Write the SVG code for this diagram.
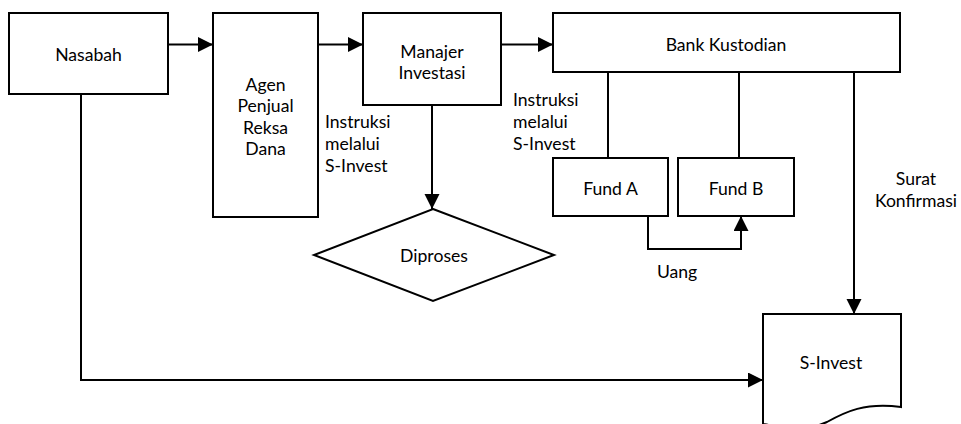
<svg xmlns="http://www.w3.org/2000/svg" width="961" height="424" viewBox="0 0 961 424">
<style>
.box{fill:#fff;stroke:#000;stroke-width:2}
.ln{fill:none;stroke:#000;stroke-width:2}
text{font-family:Lato,"DejaVu Sans",sans-serif;font-size:17.6px;fill:#000}
.c{text-anchor:middle}
</style>
<defs>
<marker id="ah" markerUnits="userSpaceOnUse" markerWidth="16" markerHeight="16" refX="15" refY="7.5" orient="auto">
<path d="M0,0 L15,7.5 L0,15 Z" fill="#000"/>
</marker>
</defs>
<rect width="961" height="424" fill="#fff"/>
<g id="connectors">
<line class="ln" x1="168" y1="44.5" x2="213" y2="44.5" marker-end="url(#ah)"/>
<line class="ln" x1="318" y1="44.5" x2="363" y2="44.5" marker-end="url(#ah)"/>
<line class="ln" x1="501" y1="44.5" x2="553" y2="44.5" marker-end="url(#ah)"/>
<line class="ln" x1="432" y1="105" x2="432" y2="209" marker-end="url(#ah)"/>
<line class="ln" x1="608" y1="72" x2="608" y2="158"/>
<line class="ln" x1="739" y1="72" x2="739" y2="158"/>
<line class="ln" x1="854" y1="72" x2="854" y2="314" marker-end="url(#ah)"/>
<polyline class="ln" points="648,216 648,249 741,249 741,216" marker-end="url(#ah)"/>
<polyline class="ln" points="81,94 81,380 763,380" marker-end="url(#ah)"/>
</g>
<g id="nasabah"><rect class="box" x="9" y="13" width="159" height="81"/><text class="c" x="88.5" y="61">Nasabah</text></g>
<g id="agen"><rect class="box" x="213" y="13" width="105" height="204"/>
<text class="c" x="265.5" y="90.5">Agen</text><text class="c" x="265.5" y="112">Penjual</text><text class="c" x="265.5" y="133.5">Reksa</text><text class="c" x="265.5" y="155">Dana</text></g>
<g id="manajer"><rect class="box" x="363" y="13" width="138" height="92"/>
<text class="c" x="432" y="58">Manajer</text><text class="c" x="432" y="79">Investasi</text></g>
<g id="bank"><rect class="box" x="553" y="13" width="347" height="59"/><text class="c" x="726" y="50.5">Bank Kustodian</text></g>
<g id="fundA"><rect class="box" x="553" y="158" width="115" height="58"/><text class="c" x="610.5" y="195">Fund A</text></g>
<g id="fundB"><rect class="box" x="678" y="158" width="116" height="58"/><text class="c" x="736" y="195">Fund B</text></g>
<g id="diproses"><polygon class="box" points="433,209 554,255 433,301 314,255"/><text class="c" x="434" y="262">Diproses</text></g>
<g id="sinvest"><path class="box" d="M763,314 H901 V407 C865,402 845,412 827,422 C805,432 785,428 763,424 Z"/><text class="c" x="831" y="369">S-Invest</text></g>
<g id="labels">
<text x="325" y="127.5">Instruksi</text><text x="325" y="149.5">melalui</text><text x="325" y="171.5">S-Invest</text>
<text x="513" y="106">Instruksi</text><text x="513" y="128">melalui</text><text x="513" y="150">S-Invest</text>
<text class="c" x="916" y="185">Surat</text><text class="c" x="916" y="207">Konfirmasi</text>
<text x="657" y="278">Uang</text>
</g>
</svg>
